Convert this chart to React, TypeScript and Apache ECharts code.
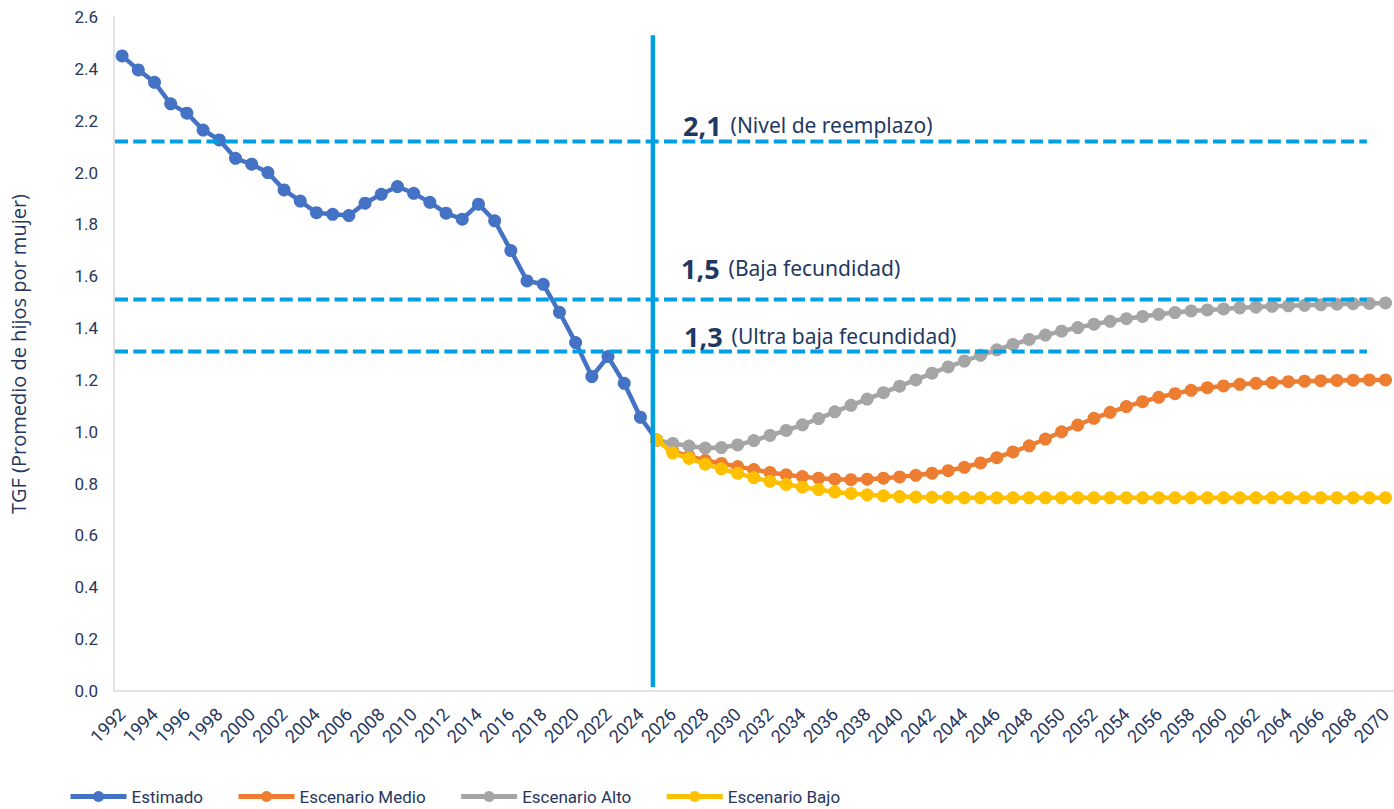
import React, { useEffect, useRef } from "react";
import * as echarts from "echarts";

const firstYear = 1992;
const lastYear = 2070;
const years: string[] = [];
for (let y = firstYear; y <= lastYear; y++) years.push(String(y));

// Estimado 1992-2025
const estimado = [
  2.45, 2.396, 2.348, 2.265, 2.229, 2.164, 2.126, 2.055, 2.032, 2.0,
  1.933, 1.89, 1.845, 1.839, 1.834, 1.882, 1.916, 1.946, 1.92, 1.885,
  1.843, 1.82, 1.878, 1.814, 1.699, 1.582, 1.569, 1.461, 1.344, 1.213,
  1.29, 1.187, 1.056, 0.968,
];

// Escenarios 2025-2070
const medio = [
  0.968, 0.925, 0.905, 0.89, 0.878, 0.866, 0.854, 0.843, 0.834, 0.827,
  0.821, 0.817, 0.815, 0.817, 0.821, 0.826, 0.832, 0.84, 0.85, 0.863,
  0.88, 0.9, 0.922, 0.946, 0.972, 1.0, 1.026, 1.052, 1.075, 1.097,
  1.116, 1.133, 1.147, 1.16, 1.17, 1.177, 1.183, 1.187, 1.19, 1.193,
  1.195, 1.197, 1.198, 1.199, 1.2, 1.2,
];
const alto = [
  0.968, 0.955, 0.945, 0.937, 0.939, 0.949, 0.966, 0.986, 1.005, 1.027,
  1.051, 1.077, 1.102, 1.126, 1.151, 1.176, 1.2, 1.226, 1.25, 1.273,
  1.295, 1.316, 1.337, 1.356, 1.373, 1.388, 1.402, 1.415, 1.426, 1.436,
  1.445, 1.453, 1.46, 1.466, 1.47, 1.474, 1.478, 1.481, 1.484, 1.486,
  1.488, 1.49, 1.492, 1.494, 1.495, 1.497,
];
const bajo = [
  0.968, 0.918, 0.897, 0.875, 0.857, 0.84, 0.823, 0.809, 0.797, 0.786,
  0.777, 0.768, 0.762, 0.757, 0.753, 0.75, 0.748, 0.747, 0.746, 0.745,
  0.745, 0.745, 0.745, 0.745, 0.745, 0.745, 0.745, 0.745, 0.745, 0.745,
  0.745, 0.745, 0.745, 0.745, 0.745, 0.745, 0.745, 0.745, 0.745, 0.745,
  0.745, 0.745, 0.745, 0.745, 0.745, 0.745,
];

const refLevels = [2.12, 1.51, 1.31];
const refValueLabels = ["2,1", "1,5", "1,3"];
const refTextLabels = ["(Nivel de reemplazo)", "(Baja fecundidad)", "(Ultra baja fecundidad)"];
const refStartYear = 1991.56;
const refEndYear = 2068.85;
const cutYear = 2024.77;
const cutRange = [0.015, 2.53];

const seriesNames = ["Estimado", "Escenario Medio", "Escenario Alto", "Escenario Bajo"];
const seriesColors = ["#4472C4", "#ED7D31", "#A5A5A5", "#FFC000"];

const navy = "#26365E";
const refColor = "#009FE3";

function padTo(values: number[], startYear: number) {
  const out: (number | null)[] = [];
  for (let y = firstYear; y <= lastYear; y++) {
    const i = y - startYear;
    out.push(i >= 0 && i < values.length ? values[i] : null);
  }
  return out;
}

export default function App() {
  const ref = useRef<HTMLDivElement>(null);

  useEffect(() => {
    document.body.style.margin = "0";
    if (!ref.current) return;
    const chart = echarts.init(ref.current, undefined, { renderer: "svg" });

    const dataSets = [padTo(estimado, 1992), padTo(medio, 2025), padTo(alto, 2025), padTo(bajo, 2025)];

    const mainSeries = seriesNames.map((name, i) => ({
      name,
      type: "line",
      data: dataSets[i],
      xAxisIndex: 0,
      yAxisIndex: 0,
      color: seriesColors[i],
      symbol: "circle",
      symbolSize: 13,
      showAllSymbol: true,
      connectNulls: false,
      lineStyle: { width: 4.5, color: seriesColors[i] },
      itemStyle: { color: seriesColors[i] },
      z: 3 + i,
    }));

    const refSeries = refLevels.map((v, i) => ({
      name: "ref" + i,
      type: "line",
      xAxisIndex: 1,
      yAxisIndex: 0,
      data: [
        [refStartYear, v],
        [refEndYear, v],
      ],
      symbol: "none",
      silent: true,
      lineStyle: { color: refColor, width: 4, type: [13, 5.3] },
      z: 8,
    }));

    const cutSeries = {
      name: "cut",
      type: "line",
      xAxisIndex: 1,
      yAxisIndex: 0,
      data: [
        [cutYear, cutRange[0]],
        [cutYear, cutRange[1]],
      ],
      symbol: "none",
      silent: true,
      lineStyle: { color: refColor, width: 4.5 },
      z: 9,
    };

    const labelY = [125, 268, 336];
    const labelX = [683, 681, 684];

    chart.setOption({
      animation: false,
      grid: { left: 111, right: 0, top: 17, bottom: 118, containLabel: false },
      legend: {
        data: seriesNames,
        left: 68,
        top: 788,
        padding: 0,
        itemWidth: 56,
        itemHeight: 14,
        itemGap: 33,
        lineStyle: { width: 5 },
        textStyle: { color: navy, fontSize: 17, fontFamily: "Roboto" },
      },
      xAxis: [
        {
          type: "category",
          data: years,
          boundaryGap: true,
          axisLine: { show: true, lineStyle: { color: "#D9D9D9", width: 1.5 } },
          axisTick: { show: false },
          axisLabel: {
            interval: 1,
            rotate: 45,
            color: navy,
            fontSize: 18,
            fontFamily: "Roboto",
            margin: 20,
          },
          splitLine: { show: false },
        },
        {
          type: "value",
          min: firstYear - 0.5,
          max: lastYear + 0.5,
          show: false,
          splitLine: { show: false },
        },
      ],
      yAxis: {
        type: "value",
        min: 0,
        max: 2.6,
        interval: 0.2,
        name: "TGF (Promedio de hijos por mujer)",
        nameLocation: "middle",
        nameGap: 86,
        nameTextStyle: { color: navy, fontSize: 20, fontFamily: "Open Sans" },
        axisLine: { show: true, lineStyle: { color: "#D9D9D9", width: 1.5 } },
        axisTick: { show: false },
        splitLine: { show: false },
        axisLabel: {
          color: navy,
          fontSize: 17,
          fontFamily: "Roboto",
          margin: 16,
          formatter: (v: number) => v.toFixed(1),
        },
      },
      graphic: refLevels.map((_, i) => ({
        type: "text",
        x: labelX[i],
        y: labelY[i],
        z: 100,
        style: {
          text: `{b|${refValueLabels[i]}}{n|${refTextLabels[i]}}`,
          verticalAlign: "middle",
          rich: {
            b: { fontSize: 27, fontWeight: "bold", fill: "#1F3864", fontFamily: "Noto Sans", padding: [0, 9, 0, 0] },
            n: { fontSize: 21, fill: "#1F3864", fontFamily: "Noto Sans" },
          },
        },
      })),
      series: [...mainSeries, ...refSeries, cutSeries],
    });

    return () => chart.dispose();
  }, []);

  return <div ref={ref} style={{ width: 1394, height: 809 }} />;
}
